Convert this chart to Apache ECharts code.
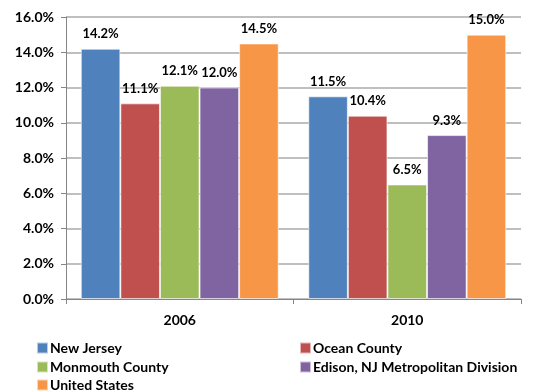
<!DOCTYPE html>
<html><head><meta charset="utf-8">
<script src="https://cdn.jsdelivr.net/npm/echarts@6/dist/echarts.min.js"></script>
<style>html,body{margin:0;padding:0;background:#fff}#c{width:542px;height:392px}</style>
</head><body><div id="c"></div>
<script>
const categories = ['2006', '2010'];
const seriesNames = ['New Jersey', 'Ocean County', 'Monmouth County', 'Edison, NJ Metropolitan Division', 'United States'];
const newJersey = [14.2, 11.5];
const oceanCounty = [11.1, 10.4];
const monmouthCounty = [12.1, 6.5];
const edison = [12.0, 9.3];
const unitedStates = [14.5, 15.0];
const colors = ['#4F81BD', '#C0504D', '#9BBB59', '#8064A2', '#F79646'];
const values = [newJersey, oceanCounty, monmouthCounty, edison, unitedStates];
const font = 'Lato, "Liberation Sans", sans-serif';

const legendPos = [
  {left: 36, top: 341}, {left: 299, top: 341},
  {left: 36, top: 360}, {left: 299, top: 360},
  {left: 36, top: 378}
];

const chart = echarts.init(document.getElementById('c'), null, {renderer: 'canvas'});
chart.setOption({
  animation: false,
  textStyle: {fontFamily: font},
  grid: {left: 66, right: 21, top: 17, bottom: 93, containLabel: false},
  legend: seriesNames.map((n, i) => ({
    data: [n], left: legendPos[i].left, top: legendPos[i].top,
    itemWidth: 11, itemHeight: 11, itemGap: 4,
    textStyle: {fontFamily: font, fontWeight: 'bold', fontSize: 14, color: '#000', padding: [0,0,0,-3]},
    icon: 'rect', padding: 0
  })),
  xAxis: {
    type: 'category', data: categories,
    axisLine: {lineStyle: {color: '#868686', width: 1}},
    axisTick: {show: true, length: 5, lineStyle: {color: '#868686'}},
    axisLabel: {fontFamily: font, fontWeight: 'bold', fontSize: 14, color: '#000', margin: 14}
  },
  yAxis: {
    type: 'value', min: 0, max: 16, interval: 2,
    axisLine: {show: true, lineStyle: {color: '#868686', width: 1}},
    axisTick: {show: true, length: 5, lineStyle: {color: '#868686'}},
    splitLine: {lineStyle: {color: '#BFBFBF', width: 2}},
    axisLabel: {fontFamily: font, fontWeight: 'bold', fontSize: 14, color: '#000', margin: 12,
      formatter: v => v.toFixed(1) + '%'}
  },
  series: seriesNames.map((n, i) => ({
    name: n, type: 'bar', data: values[i],
    barGap: '0%', barCategoryGap: '13%',
    itemStyle: {color: colors[i], borderColor: 'rgba(255,255,255,0.6)', borderWidth: 1},
    label: {show: true, position: 'top', distance: 8, fontFamily: font, fontWeight: 'bold', fontSize: 13, color: '#000',
      formatter: p => p.value.toFixed(1) + '%'}
  }))
});
</script></body></html>
